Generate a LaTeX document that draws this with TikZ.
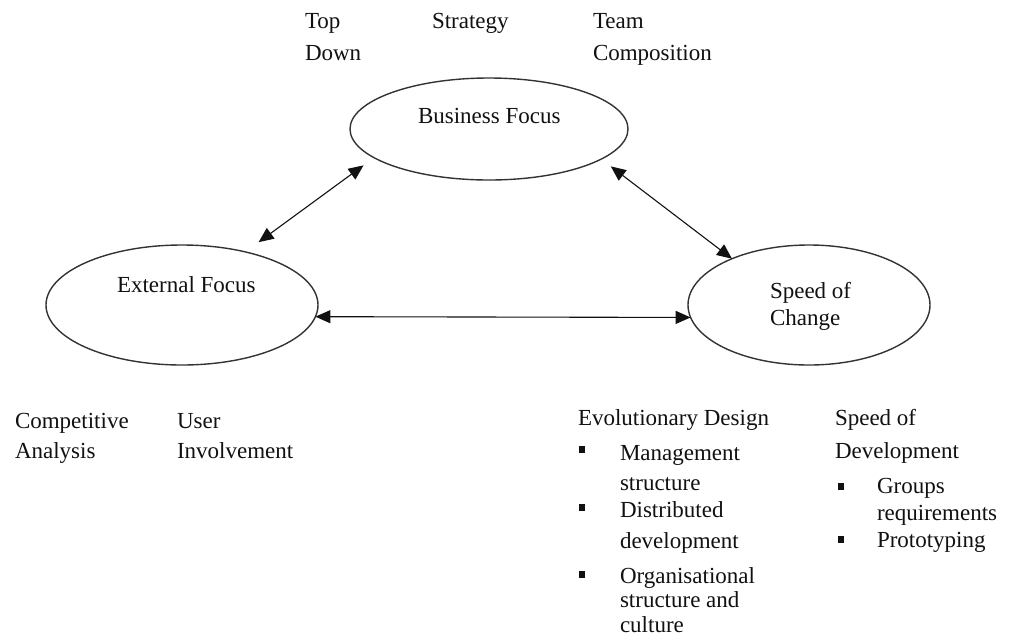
\documentclass[tikz,border=0pt]{standalone}
\usepackage{fontspec}
\setmainfont{Liberation Serif}
\usetikzlibrary{shapes.geometric,arrows.meta}
\definecolor{ink}{HTML}{111111}
\definecolor{rim}{HTML}{333333}
\begin{document}
\begin{tikzpicture}[x=1pt,y=-1pt,
  oval/.style={ellipse,draw=rim,line width=1.4pt,inner sep=0pt,outer sep=0pt},
  lbl/.style={anchor=base west,inner sep=0pt,outer sep=0pt,text=ink,font=\fontsize{23}{28}\selectfont},
  link/.style={draw=ink,line width=1.1pt,{Triangle[length=15pt,width=13pt]}-{Triangle[length=15pt,width=13pt]}},
  sq/.style={fill=ink,inner sep=0pt,outer sep=0pt,minimum width=6pt,minimum height=7pt}]
\useasboundingbox (0,0) rectangle (1009,641);
\fill[white] (0,0) rectangle (1009,641);

% the three foci
\node[oval,minimum width=278pt,minimum height=102pt] (bf) at (489,129) {};
\node[oval,minimum width=272pt,minimum height=120pt] (ef) at (182,305) {};
\node[oval,minimum width=242pt,minimum height=120pt] (sc) at (809,305) {};

\node[lbl] (bft) at (418,123) {Business Focus};
\node[lbl] (eft) at (117,292) {External Focus};
\node[lbl] (sct1) at (770,298) {Speed of};
\node[lbl] (sct2) at (770,325) {Change};

% two-way links between the foci
\draw[link,shorten <=13pt,shorten >=16.5pt] (bf.194) -- (ef.40);
\draw[link,shorten <=12pt] (bf.345) -- (sc.149);
\draw[link] (ef.355) -- (sc.186);

% labels above the business focus
\node[lbl] (td1) at (305,28) {Top};
\node[lbl] (td2) at (305,60) {Down};
\node[lbl] (st) at (432,28) {Strategy};
\node[lbl] (tc1) at (593,28) {Team};
\node[lbl] (tc2) at (593,60) {Composition};

% labels below the external focus
\node[lbl] (ca1) at (15,428) {Competitive};
\node[lbl] (ca2) at (15,458) {Analysis};
\node[lbl] (ui1) at (177,428) {User};
\node[lbl] (ui2) at (177,458) {Involvement};

% evolutionary design list
\node[lbl] (ed) at (578,425) {Evolutionary Design};
\node[sq] (eb1) at (582,449) {};
\node[lbl] (ed1a) at (620,460) {Management};
\node[lbl] (ed1b) at (620,490) {structure};
\node[sq] (eb2) at (582,507) {};
\node[lbl] (ed2a) at (620,517) {Distributed};
\node[lbl] (ed2b) at (620,548) {development};
\node[sq] (eb3) at (582,574) {};
\node[lbl] (ed3a) at (620,583) {Organisational};
\node[lbl] (ed3b) at (620,607) {structure and};
\node[lbl] (ed3c) at (620,632) {culture};

% speed of development list
\node[lbl] (sd1) at (835,425) {Speed of};
\node[lbl] (sd2) at (835,458) {Development};
\node[sq] (sb1) at (841,486) {};
\node[lbl] (sd1a) at (877,493) {Groups};
\node[lbl] (sd1b) at (877,520) {requirements};
\node[sq] (sb2) at (841,539) {};
\node[lbl] (sd2a) at (877,547) {Prototyping};
\end{tikzpicture}
\end{document}
